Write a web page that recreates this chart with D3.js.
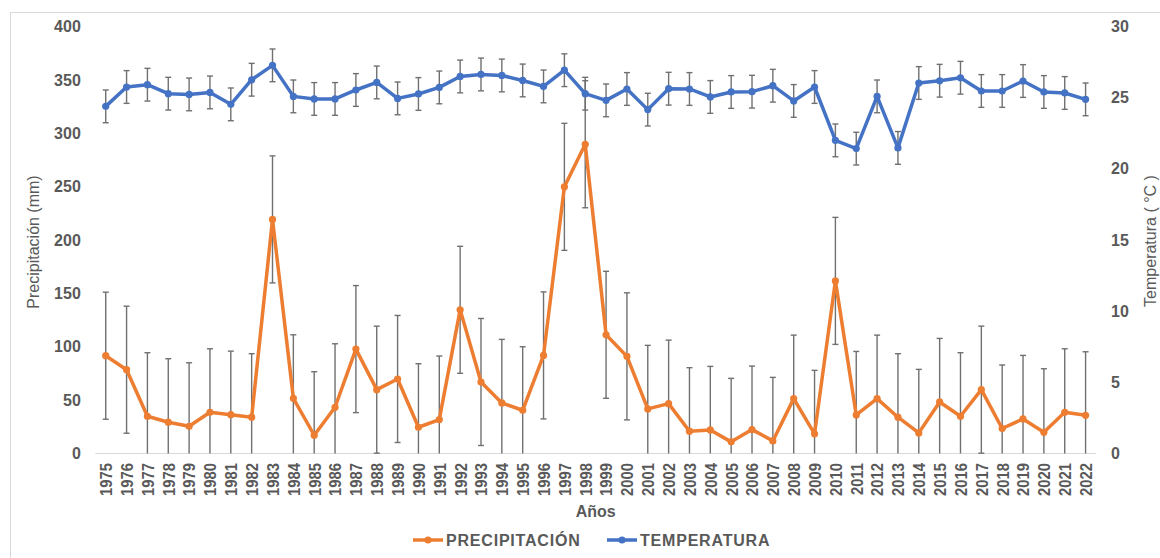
<!DOCTYPE html>
<html>
<head>
<meta charset="utf-8">
<script src="https://cdn.jsdelivr.net/npm/d3@7"></script>
<style>
  html, body { margin: 0; padding: 0; background: #fff; }
  svg { display: block; font-family: "Liberation Sans", Arial, sans-serif; }
</style>
</head>
<body>
<svg id="chart" width="1160" height="558"></svg>
<script>
// ---- data ----
const years = ["1975","1976","1977","1978","1979","1980","1981","1982","1983","1984",
  "1985","1986","1987","1988","1989","1990","1991","1992","1993","1994",
  "1995","1996","1997","1998","1999","2000","2001","2002","2003","2004",
  "2005","2006","2007","2008","2009","2010","2011","2012","2013","2014",
  "2015","2016","2017","2018","2019","2020","2021","2022"];
const precipitacion = [91.6, 78.5, 34.9, 29.3, 25.5, 38.6, 36.4, 34.0, 219.3, 51.7,
  17.1, 43.3, 97.8, 59.8, 69.8, 24.6, 31.8, 134.6, 67.0, 47.4,
  40.5, 91.9, 249.8, 289.7, 111.2, 91.0, 41.8, 46.7, 20.9, 22.1,
  10.9, 22.4, 11.8, 51.4, 18.4, 161.7, 36.1, 51.4, 34.0, 19.3,
  48.3, 34.9, 59.8, 23.4, 32.4, 19.9, 38.6, 35.8];
const temperatura = [24.39, 25.75, 25.91, 25.28, 25.23, 25.37, 24.53, 26.26, 27.27, 25.09,
  24.91, 24.91, 25.54, 26.07, 24.95, 25.26, 25.72, 26.49, 26.63, 26.56,
  26.21, 25.79, 26.93, 25.28, 24.81, 25.61, 24.16, 25.63, 25.61, 25.05,
  25.40, 25.42, 25.84, 24.77, 25.75, 22.00, 21.42, 25.09, 21.47, 26.03,
  26.19, 26.40, 25.47, 25.47, 26.17, 25.40, 25.33, 24.88];
const precipError = 59.5;
const tempError = 1.15;
const leftTicks = [0, 50, 100, 150, 200, 250, 300, 350, 400];
const rightTicks = [0, 5, 10, 15, 20, 25, 30];
const seriesNames = ["PRECIPITACIÓN", "TEMPERATURA"];

// ---- layout ----
const svg = d3.select("#chart");
const plot = { left: 95.3, right: 1096, top: 26.5, bottom: 453.5 };
const cOrange = "#ED7D31", cBlue = "#4472C4", cText = "#595959", cErr = "#707070";

// border
svg.append("rect").attr("x", 10.5).attr("y", 12.5).attr("width", 1200).attr("height", 600)
  .attr("fill", "none").attr("stroke", "#d9d9d9").attr("stroke-width", 1);

const x = d3.scalePoint().domain(years).range([plot.left, plot.right]).padding(0.5);
const yL = d3.scaleLinear().domain([0, 400]).range([plot.bottom, plot.top]);
const yR = d3.scaleLinear().domain([0, 30]).range([plot.bottom, plot.top]);

// axes
const gL = svg.append("g").attr("transform", `translate(${plot.left},0)`)
  .call(d3.axisLeft(yL).tickValues(leftTicks).tickSize(0).tickPadding(14.5));
const gR = svg.append("g").attr("transform", `translate(${plot.right},0)`)
  .call(d3.axisRight(yR).tickValues(rightTicks).tickSize(0).tickPadding(15));
[gL, gR].forEach(g => {
  g.select(".domain").remove();
  g.selectAll("text").attr("fill", cText).style("font-size", "16px").style("font-weight", "bold")
    .style("font-family", "'Liberation Sans', Arial, sans-serif");
});

const gB = svg.append("g").attr("transform", `translate(0,${plot.bottom})`)
  .call(d3.axisBottom(x).tickSize(0));
gB.select(".domain").remove();
gB.selectAll("text")
  .attr("transform", "rotate(-90) scale(1,1.1)")
  .attr("x", -9.5).attr("y", 0).attr("dy", "0.36em")
  .attr("text-anchor", "end")
  .attr("fill", cText).style("font-size", "14.8px").style("font-weight", "bold")
  .style("font-family", "'Liberation Sans', Arial, sans-serif");

svg.append("line").attr("x1", plot.left).attr("x2", plot.right)
  .attr("y1", plot.bottom).attr("y2", plot.bottom)
  .attr("stroke", "#d9d9d9").attr("stroke-width", 1.2);

// axis titles
svg.append("text").attr("transform", `translate(33.5,242) rotate(-90)`)
  .attr("text-anchor", "middle").attr("dominant-baseline", "central")
  .attr("fill", cText).style("font-size", "16px").text("Precipitación (mm)");
svg.append("text").attr("transform", `translate(1150,241) rotate(-90)`)
  .attr("text-anchor", "middle").attr("dominant-baseline", "central")
  .attr("fill", cText).style("font-size", "16px").text("Temperatura ( °C )");
svg.append("text").attr("x", (plot.left + plot.right) / 2).attr("y", 517)
  .attr("text-anchor", "middle").attr("fill", cText)
  .style("font-size", "16px").style("font-weight", "bold").text("Años");

// series drawing
function drawSeries(values, err, yScale, color) {
  const g = svg.append("g");
  const data = years.map((yr, i) => ({ yr, v: values[i] }));
  const capW = 3;
  const eb = g.append("g").attr("stroke", cErr).attr("stroke-width", 1.4);
  data.forEach(d => {
    const cx = x(d.yr);
    const lo = Math.max(yScale.domain()[0], d.v - err);
    const hi = Math.min(yScale.domain()[1], d.v + err);
    eb.append("line").attr("x1", cx).attr("x2", cx).attr("y1", yScale(lo)).attr("y2", yScale(hi));
    if (d.v + err <= yScale.domain()[1])
      eb.append("line").attr("x1", cx - capW).attr("x2", cx + capW).attr("y1", yScale(hi)).attr("y2", yScale(hi));
    if (d.v - err >= yScale.domain()[0])
      eb.append("line").attr("x1", cx - capW).attr("x2", cx + capW).attr("y1", yScale(lo)).attr("y2", yScale(lo));
  });
  const line = d3.line().x(d => x(d.yr)).y(d => yScale(d.v));
  g.append("path").datum(data).attr("d", line).attr("fill", "none")
    .attr("stroke", color).attr("stroke-width", 3.5).attr("stroke-linejoin", "round");
  g.selectAll("circle").data(data).join("circle")
    .attr("cx", d => x(d.yr)).attr("cy", d => yScale(d.v)).attr("r", 3.6).attr("fill", color);
}
drawSeries(precipitacion, precipError, yL, cOrange);
drawSeries(temperatura, tempError, yR, cBlue);

// legend
const legendItems = [
  { name: seriesNames[0], color: cOrange, x0: 413 },
  { name: seriesNames[1], color: cBlue, x0: 607 }
];
legendItems.forEach(it => {
  const g = svg.append("g");
  g.append("line").attr("x1", it.x0).attr("x2", it.x0 + 30).attr("y1", 540).attr("y2", 540)
    .attr("stroke", it.color).attr("stroke-width", 3.5);
  g.append("circle").attr("cx", it.x0 + 15).attr("cy", 540).attr("r", 3.6).attr("fill", it.color);
  g.append("text").attr("x", it.x0 + 33).attr("y", 546).attr("fill", cText)
    .style("font-size", "16px").style("font-weight", "bold").style("letter-spacing", "0.8px")
    .text(it.name);
});
</script>
</body>
</html>
